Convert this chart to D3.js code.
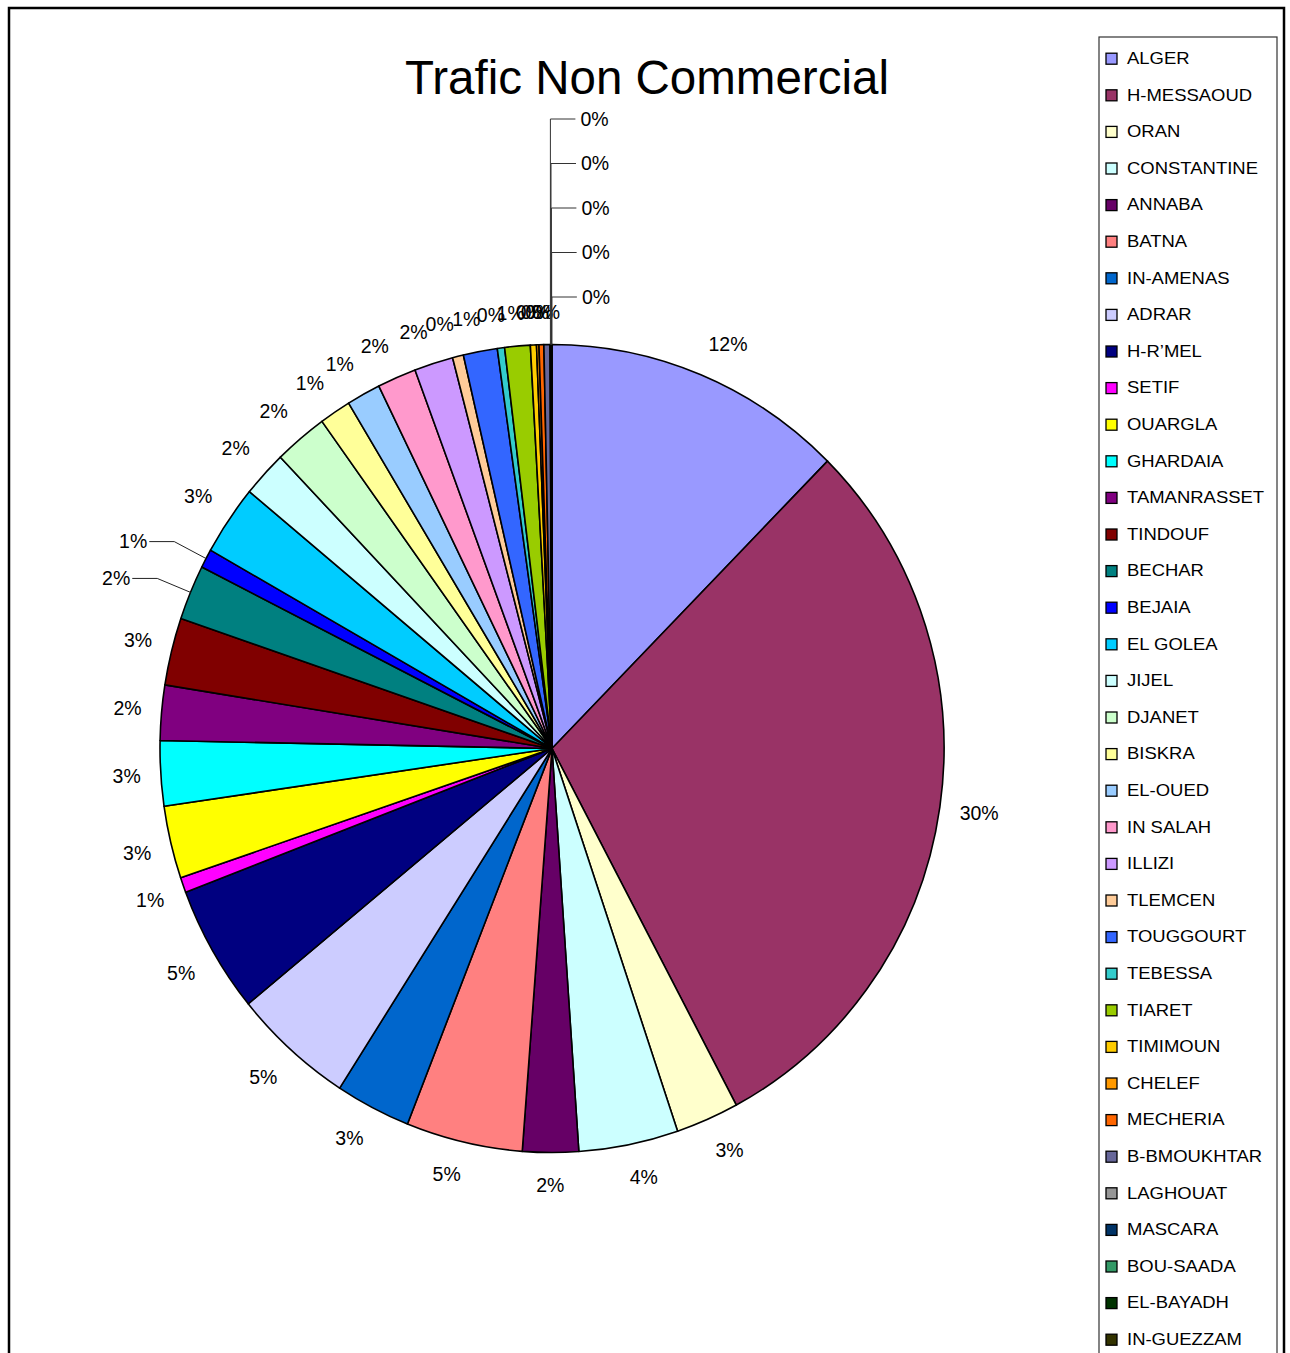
<!DOCTYPE html>
<html><head><meta charset="utf-8">
<script src="https://cdn.jsdelivr.net/npm/d3@7"></script>
<style>body{margin:0;background:#fff} text{font-family:"Liberation Sans",Arial,sans-serif;fill:#000}</style>
</head><body><svg id="c" width="1290" height="1353"></svg>
<script>
const title = "Trafic Non Commercial";
const categories = ["ALGER","H-MESSAOUD","ORAN","CONSTANTINE","ANNABA","BATNA","IN-AMENAS","ADRAR","H-R'MEL","SETIF","OUARGLA","GHARDAIA","TAMANRASSET","TINDOUF","BECHAR","BEJAIA","EL GOLEA","JIJEL","DJANET","BISKRA","EL-OUED","IN SALAH","ILLIZI","TLEMCEN","TOUGGOURT","TEBESSA","TIARET","TIMIMOUN","CHELEF","MECHERIA","B-BMOUKHTAR","LAGHOUAT","MASCARA","BOU-SAADA","EL-BAYADH","IN-GUEZZAM"];
const legendLabels = ["ALGER","H-MESSAOUD","ORAN","CONSTANTINE","ANNABA","BATNA","IN-AMENAS","ADRAR","H-R’MEL","SETIF","OUARGLA","GHARDAIA","TAMANRASSET","TINDOUF","BECHAR","BEJAIA","EL GOLEA","JIJEL","DJANET","BISKRA","EL-OUED","IN SALAH","ILLIZI","TLEMCEN","TOUGGOURT","TEBESSA","TIARET","TIMIMOUN","CHELEF","MECHERIA","B-BMOUKHTAR","LAGHOUAT","MASCARA","BOU-SAADA","EL-BAYADH","IN-GUEZZAM"];
const values = [12.4,29.8,2.6,4.1,2.3,4.8,3.1,5.0,5.1,0.6,2.9,2.6,2.2,2.7,2.2,0.75,2.8,1.85,2.2,1.3,1.4,1.6,1.6,0.45,1.4,0.3,1.05,0.25,0.1,0.2,0.25,0.03,0.02,0.01,0.01,0.01];
const colors = ["#9999FF","#993366","#FFFFCC","#CCFFFF","#660066","#FF8080","#0066CC","#CCCCFF","#000080","#FF00FF","#FFFF00","#00FFFF","#800080","#800000","#008080","#0000FF","#00CCFF","#CCFFFF","#CCFFCC","#FFFF99","#99CCFF","#FF99CC","#CC99FF","#FFCC99","#3366FF","#33CCCC","#99CC00","#FFCC00","#FF9900","#FF6600","#666699","#969696","#003366","#339966","#003300","#333300"];
const leaderCategories = ["BECHAR","BEJAIA"];
const stackedCategories = ["LAGHOUAT","MASCARA","BOU-SAADA","EL-BAYADH","IN-GUEZZAM"];

const svg = d3.select("#c");
svg.append("rect").attr("x",9).attr("y",8).attr("width",1275).attr("height",1420)
  .attr("fill","#fff").attr("stroke","#000").attr("stroke-width",2.5);

svg.append("text").attr("x",647).attr("y",94).attr("text-anchor","middle")
  .attr("font-size",47.5).text(title);

const cx = 552, cy = 748.5, rx = 392, ry = 404;
const data = categories.map((c,i)=>({name:c, value:values[i], color:colors[i]}));
const total = d3.sum(values);
const arcs = d3.pie().value(d=>d.value).sort(null)(data);
const arc = d3.arc().innerRadius(0).outerRadius(ry);

const g = svg.append("g").attr("transform",`translate(${cx},${cy}) scale(${rx/ry},1)`);
g.selectAll("path").data(arcs).join("path")
  .attr("d",arc).attr("fill",d=>d.data.color)
  .attr("stroke","#000").attr("stroke-width",1.6)
  .attr("vector-effect","non-scaling-stroke").attr("stroke-linejoin","round");

const fmt = v => Math.round(v/total*100) + "%";
const clamp = v => Math.max(-1, Math.min(1, v));
const lab = svg.append("g");
const stacked = arcs.filter(a=>stackedCategories.includes(a.data.name));

arcs.forEach(a=>{
  const th = (a.startAngle + a.endAngle)/2;
  const s = Math.sin(th), c = -Math.cos(th);
  const ex = cx + rx*s, ey = cy + ry*c;
  const name = a.data.name;
  if (stackedCategories.includes(name)) return;
  if (leaderCategories.includes(name)) {
    const bx = ex + 36*s, by = ey + 36*c;
    lab.append("polyline").attr("points",`${ex},${ey} ${bx},${by} ${bx-25},${by}`)
      .attr("fill","none").attr("stroke","#222").attr("stroke-width",1);
    lab.append("text").attr("x",bx-27).attr("y",by).attr("dy","0.35em")
      .attr("text-anchor","end").attr("font-size",19.5).text(fmt(a.data.value));
    return;
  }
  const t = lab.append("text").attr("font-size",19.5).attr("text-anchor","middle")
    .attr("dy","0.35em").text(fmt(a.data.value));
  const w = t.node().getComputedTextLength();
  const px = ex + 20*s + (w/2)*clamp(4*s);
  const py = ey + 20*c + 12.5*clamp(2*c);
  t.attr("x",px).attr("y",py);
});

stacked.slice().reverse().forEach((a,i)=>{
  const th = (a.startAngle + a.endAngle)/2;
  const ex = cx + rx*Math.sin(th), ey = cy - ry*Math.cos(th);
  const ly = (cy - ry) - 47.5 - i*44.5;
  lab.append("polyline").attr("points",`${ex},${ey} ${ex},${ly} ${ex+25},${ly}`)
    .attr("fill","none").attr("stroke","#333").attr("stroke-width",1);
  lab.append("text").attr("x",ex+30).attr("y",ly).attr("dy","0.35em")
    .attr("font-size",19.5).text(fmt(a.data.value));
});

const lg = svg.append("g");
lg.append("rect").attr("x",1099).attr("y",37).attr("width",178).attr("height",1400)
  .attr("fill","#fff").attr("stroke","#333").attr("stroke-width",1.2);
legendLabels.forEach((name,i)=>{
  const yc = 59.2 + i*36.6;
  lg.append("rect").attr("x",1106).attr("y",yc-6).attr("width",11).attr("height",11)
    .attr("fill",colors[i]).attr("stroke","#000").attr("stroke-width",1.3);
  lg.append("text").attr("transform",`translate(1127,${yc-1}) scale(1.12,1)`)
    .attr("dy","0.35em").attr("font-size",16.5).text(name);
});
</script></body></html>
